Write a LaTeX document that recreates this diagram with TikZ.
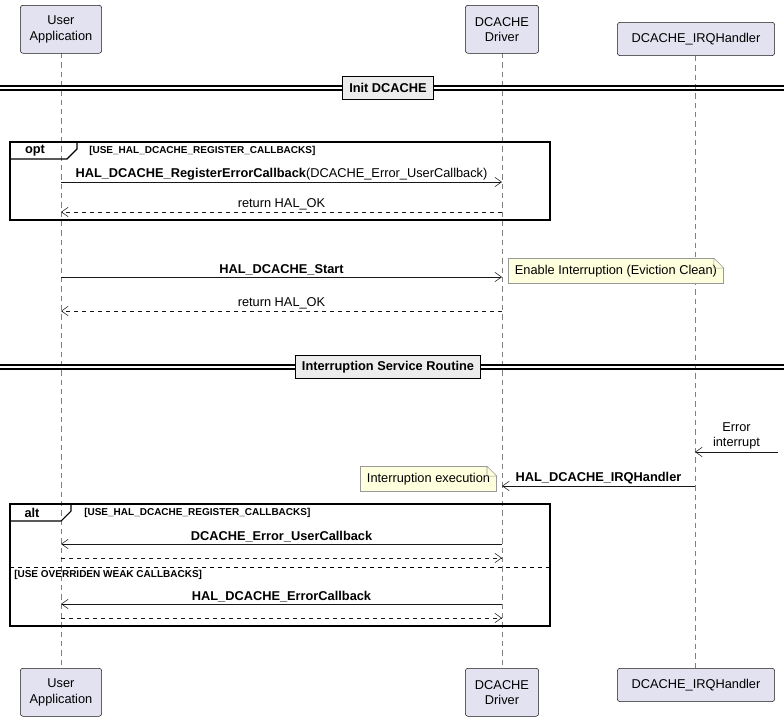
\documentclass[tikz,border=0pt]{standalone}
\usepackage{fontspec}
\setmainfont{Liberation Sans}
\usetikzlibrary{positioning,arrows.meta,shapes.misc}
\definecolor{partfill}{HTML}{E2E2F0}
\definecolor{partline}{HTML}{181818}
\definecolor{notefill}{HTML}{FEFFDD}
\definecolor{noteline}{HTML}{999999}
\tikzset{
	part/.style={draw=partline,fill=partfill,rounded corners=2pt,align=center,font=\fontsize{9.6}{11.5}\selectfont,inner sep=0pt},
	msg/.style={draw=partline,-{Straight Barb[length=5pt,width=7pt]}},
	ret/.style={msg,dashed},
	life/.style={draw=gray,dash pattern=on 4pt off 3pt,thin},
	lbl/.style={font=\fontsize{9.6}{11.5}\selectfont,inner sep=1pt},
	blbl/.style={lbl,font=\fontsize{9.6}{11.5}\selectfont\bfseries},
	cond/.style={font=\fontsize{7.5}{8}\selectfont\bfseries,inner sep=0pt,anchor=west},
	frame/.style={draw=black,thick},
	divbox/.style={draw=black,thick,fill=gray!15,font=\fontsize{9.6}{10}\selectfont\bfseries,minimum height=17pt,inner xsep=5pt},
	note/.style={fill=notefill,draw=noteline,font=\fontsize{9.6}{11.5}\selectfont,inner xsep=5pt,inner ysep=5pt}
}
\begin{document}
\begin{tikzpicture}[x=0.75pt,y=-0.75pt]
	\useasboundingbox (0,0) rectangle (784,721);
	% lifelines
	\draw[life] (61,53) -- (61,668);
	\draw[life] (502,53) -- (502,668);
	\draw[life] (695,56) -- (695,668);
	% participants
	\foreach \y/\q/\p in {5/22/t,668/668/b}{
		\node[part,minimum width=61pt,minimum height=36pt,anchor=north] (user\p) at (61,\y) {User\\Application};
		\node[part,minimum width=55pt,minimum height=36pt,anchor=north] (dc\p) at (502,\y) {DCACHE\\Driver};
		\node[part,minimum width=118pt,minimum height=25pt,anchor=north] (irq\p) at (696,\q) {DCACHE\_IRQHandler};
	}
	% dividers
	\foreach \y/\t/\n in {88/Init DCACHE/init,367/Interruption Service Routine/isr}{
		\draw[thick] (0,\y-2) -- (784,\y-2);
		\draw[thick] (0,\y+2) -- (784,\y+2);
		\node[divbox] (\n) at (388,\y) {\t};
	}
	% coordinates on lifelines
	\foreach \n/\y in {a/182,b/212,c/277,d/311,f/486,g/544,h/558,i/604,j/618}{
		\coordinate (u\n) at (61,\y);
		\coordinate (d\n) at (502,\y);
	}
	\coordinate (ie) at (695,452); \coordinate (ix) at (778,452);
	\coordinate (if) at (695,486);
	% opt frame
	\draw[frame] (10,142) rectangle (550,220);
	\draw[frame] (10,159) -- (67,159) -- (77,149) -- (77,142);
	\node[font=\fontsize{9.6}{11.5}\selectfont\bfseries] at (35,151) {opt};
	\node[cond] at (89,151) {[USE\_HAL\_DCACHE\_REGISTER\_CALLBACKS]};
	\draw[msg] (ua) -- node[lbl,above] {\textbf{HAL\_DCACHE\_RegisterErrorCallback}(DCACHE\_Error\_UserCallback)} (da);
	\draw[ret] (db) -- node[lbl,above] {return HAL\_OK} (ub);
	% start
	\draw[msg] (uc) -- node[blbl,above] {HAL\_DCACHE\_Start} (dc);
	\node[note,anchor=south west] (n1) at (508,284) {Enable Interruption (Eviction Clean)};
	\fill[white] (n1.north east) -- ++(-10,0) -- ++(10,10) -- cycle;
	\draw[noteline] (n1.north east) ++(-10,0) -- ++(0,10) -- ++(10,0) -- ++(-10,-10);
	\draw[ret] (dd) -- node[lbl,above] {return HAL\_OK} (ud);
	% interrupt
	\draw[msg] (ix) -- node[lbl,above,align=center,yshift=1pt] {Error\\interrupt} (ie);
	\draw[msg] (if) -- node[blbl,above] {HAL\_DCACHE\_IRQHandler} (df);
	\node[note,anchor=south east] (n2) at (497,492) {Interruption execution};
	\fill[white] (n2.north east) -- ++(-10,0) -- ++(10,10) -- cycle;
	\draw[noteline] (n2.north east) ++(-10,0) -- ++(0,10) -- ++(10,0) -- ++(-10,-10);
	% alt frame
	\draw[frame] (10,504) rectangle (550,626);
	\draw[frame] (10,521) -- (61,521) -- (71,511) -- (71,504);
	\node[font=\fontsize{9.6}{11.5}\selectfont\bfseries] at (32,513) {alt};
	\node[cond] at (84,513) {[USE\_HAL\_DCACHE\_REGISTER\_CALLBACKS]};
	\draw[msg] (dg) -- node[blbl,above] {DCACHE\_Error\_UserCallback} (ug);
	\draw[ret] (uh) -- (dh);
	\draw[dashed] (10,567) -- (550,567);
	\node[cond] at (14,575) {[USE OVERRIDEN WEAK CALLBACKS]};
	\draw[msg] (di) -- node[blbl,above] {HAL\_DCACHE\_ErrorCallback} (ui);
	\draw[ret] (uj) -- (dj);
\end{tikzpicture}
\end{document}
